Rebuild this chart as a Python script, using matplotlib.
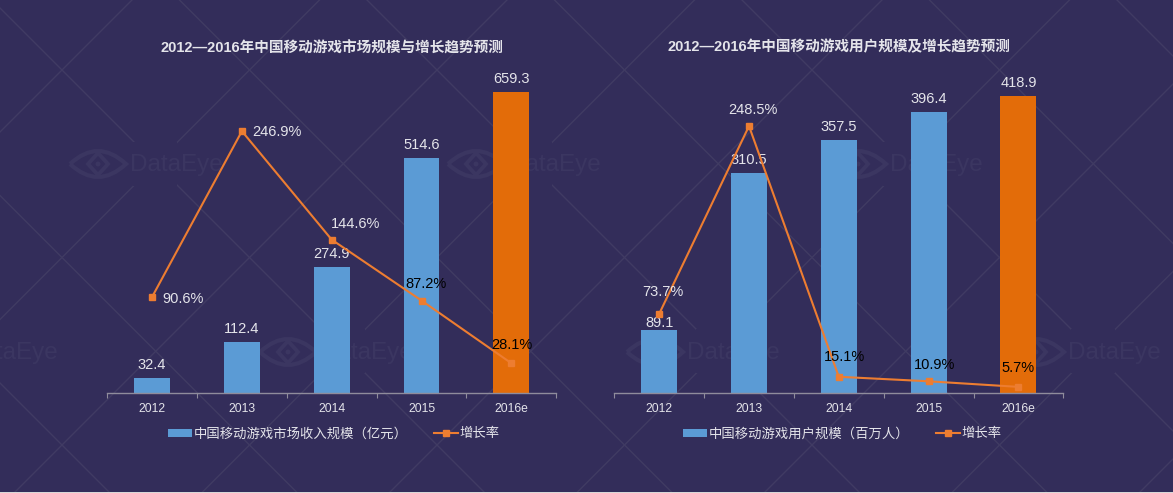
import matplotlib
matplotlib.use('Agg')
import matplotlib.pyplot as plt
from matplotlib.lines import Line2D
from matplotlib.patches import Patch, Rectangle, PathPatch, Circle
from matplotlib.path import Path

plt.rcParams['font.family'] = ['Liberation Sans', 'Noto Sans CJK SC']

years = ['2012', '2013', '2014', '2015', '2016e']

marketSize = [32.4, 112.4, 274.9, 514.6, 659.3]
marketGrowth = [90.6, 246.9, 144.6, 87.2, 28.1]
userSize = [89.1, 310.5, 357.5, 396.4, 418.9]
userGrowth = [73.7, 248.5, 15.1, 10.9, 5.7]

marketTitle = '2012—2016年中国移动游戏市场规模与增长趋势预测'
userTitle = '2012—2016年中国移动游戏用户规模及增长趋势预测'
marketLegend = '中国移动游戏市场收入规模（亿元）'
userLegend = '中国移动游戏用户规模（百万人）'
growthLegend = '增长率'

#colours
BG = '#332d5a'
LATTICE = '#403b63'
MARK = '#3b3661'
BLUE = '#5b9bd5'
ORANGE = '#e36c09'
LINE = '#ed7d31'
TEXT = '#e4e4ea'
AXIS = '#8f8c9c'

W, H = 1173, 493


def drawEye(bg, left, cy):
    # lens outline, inner diamond and pupil of the watermark logo
    w, h = 56, 26
    cx = left + w / 2
    lens = Path([(left, cy), (cx, cy - h), (left + w, cy), (cx, cy + h), (left, cy)],
                [Path.MOVETO, Path.CURVE3, Path.CURVE3, Path.CURVE3, Path.CURVE3])
    bg.add_patch(PathPatch(lens, fill=False, ec=MARK, lw=3.0, zorder=3))
    diamond = [(cx, cy - 11), (cx + 10, cy), (cx, cy + 11), (cx - 10, cy), (cx, cy - 11)]
    bg.add_patch(PathPatch(Path(diamond), fill=False, ec=MARK, lw=2.8, zorder=3))
    bg.add_patch(Circle((cx, cy), 2.5, fc=MARK, ec='none', zorder=3))
    bg.text(left + 60, cy + 1, 'DataEye', color=MARK, fontsize=17.5, va='center', ha='left', zorder=3)


def drawBackground(fig):
    bg = fig.add_axes([0, 0, 1, 1], zorder=-1)
    bg.set_xlim(0, W)
    bg.set_ylim(H, 0)
    bg.axis('off')
    step = 187.5
    for k in range(-6, 14):
        c1 = -8 + k * step
        c2 = 132 + k * step
        bg.plot([-10, W + 10], [-10 - c1, W + 10 - c1], color=LATTICE, lw=1.0, zorder=1)
        bg.plot([-10, W + 10], [c2 + 10, c2 - W - 10], color=LATTICE, lw=1.0, zorder=1)
    # lattice is cut out around each logo
    for gx, gy in [(155, 164), (530, 164), (905, 164), (-32, 351), (343, 351), (718, 351), (1093, 351)]:
        bg.add_patch(Rectangle((gx - 22, gy - 22), 44, 44, fc=BG, ec='none', zorder=2))
    for eyeX, eyeY in [(70, 164), (448, 164), (830, 164), (-95, 352), (260, 352), (627, 352), (1008, 352)]:
        drawEye(bg, eyeX, eyeY)
    # light strip at the bottom edge of the screenshot
    bg.add_patch(Rectangle((0, 491.5), W, 1.5, fc='#d8d8d8', ec='none', zorder=5))
    bg.set_xlim(0, W)
    bg.set_ylim(H, 0)


def plotPanel(fig, leftPx, bars, growth, barMax, lineMax, title, legendText, legendX, growthOffsets, barOffsets, growthDark):
    ax = fig.add_axes([leftPx / W, (H - 393) / H, 449 / W, 333 / H])
    ax.patch.set_alpha(0)
    x = list(range(len(years)))
    colors = [BLUE] * 4 + [ORANGE]
    ax.bar(x, bars, width=0.4, color=colors, linewidth=0)
    ax.set_xlim(-0.5, 4.5)
    ax.set_ylim(0, barMax)
    for s in ['left', 'right', 'top']:
        ax.spines[s].set_visible(False)
    ax.spines['bottom'].set_color(AXIS)
    ax.spines['bottom'].set_linewidth(1.0)
    ax.set_yticks([])
    ax.set_xticks([i - 0.5 for i in range(6)])
    ax.set_xticklabels([])
    ax.tick_params(axis='x', which='major', length=3.5, width=0.8, color=AXIS)
    ax.set_xticks(x, minor=True)
    ax.set_xticklabels(years, minor=True, color=TEXT, fontsize=8.7)
    ax.tick_params(axis='x', which='minor', length=0, pad=7)
    ax.set_title(title, color=TEXT, fontsize=10.55, fontweight='bold', pad=6)

    for i, v in enumerate(bars):
        ax.annotate('%.1f' % v, (i, v), xytext=(0, barOffsets[i]), textcoords='offset pixels',
                    ha='center', va='bottom', color=TEXT, fontsize=10.5)

    ax2 = ax.twinx()
    ax2.patch.set_alpha(0)
    ax2.set_ylim(0, lineMax)
    ax2.axis('off')
    ax2.plot(x, growth, color=LINE, lw=1.5, marker='s', ms=4.6, mec=LINE, mfc=LINE)
    for i, v in enumerate(growth):
        ax2.annotate('%.1f%%' % v, (i, v), xytext=growthOffsets[i], textcoords='offset pixels',
                     ha='center', va='center', fontsize=10.5,
                     color='black' if growthDark[i] else TEXT)

    handles = [Patch(fc=BLUE, ec='none'),
               Line2D([0], [0], color=LINE, lw=1.5, marker='s', ms=4.6)]
    leg = ax2.legend(handles, [legendText, growthLegend], ncols=2, frameon=False,
                     loc='center left', bbox_to_anchor=(legendX / W, (H - 434) / H),
                     bbox_transform=fig.transFigure, borderpad=0, borderaxespad=0,
                     handlelength=1.8, handleheight=0.55, handletextpad=0.1,
                     columnspacing=2.0, fontsize=9.6)
    for t in leg.get_texts():
        t.set_color(TEXT)
    return ax


fig = plt.figure(figsize=(W / 100, H / 100), dpi=100, facecolor=BG)
drawBackground(fig)

plotPanel(fig, 107.2, marketSize, marketGrowth, 729.3, 314, marketTitle, marketLegend, 168,
          [(31, -2), (35, -1), (24, 16), (4, 17), (1, 18)], [6, 6, 6, 6, 6],
          [False, False, False, True, True])
plotPanel(fig, 614.3, userSize, userGrowth, 469.7, 310, userTitle, userLegend, 683,
          [(4, 22), (4, 16), (6, 20), (6, 16), (0, 19)], [0, 6, 6, 6, 6],
          [False, False, True, True, True])

fig.savefig('out.png', dpi=100, facecolor=BG)
